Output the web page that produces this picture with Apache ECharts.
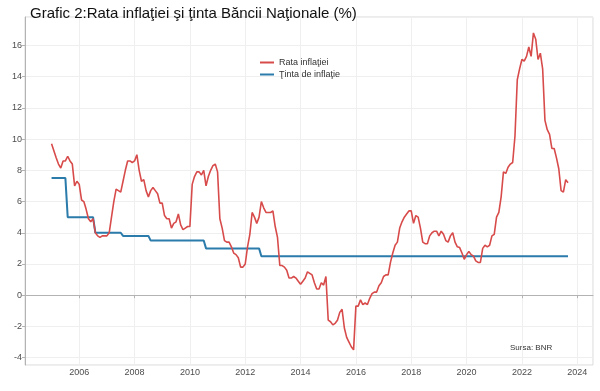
<!DOCTYPE html>
<html>
<head>
<meta charset="utf-8">
<script src="https://cdn.jsdelivr.net/npm/echarts@6/dist/echarts.min.js"></script>
<style>
html,body{margin:0;padding:0;background:#fff;}
#chart{width:600px;height:391px;}
</style>
</head>
<body>
<div id="chart"></div>
<script>
// monthly series, first month plotted at the start of 2005 (as in the reference)
var startYear = 2005;
var xTicks = [2006, 2008, 2010, 2012, 2014, 2016, 2018, 2020, 2022, 2024];
var yTicks = [-4, -2, 0, 2, 4, 6, 8, 10, 12, 14, 16];

var rataInflatiei = [
  9.7, 9.25, 8.8, 8.4, 8.15, 8.6, 8.6,
  8.9, 8.6, 8.4, 7.0, 7.3, 7.1, 6.1, 6.0, 5.5, 4.9, 4.7, 4.9,
  4.0, 3.8, 3.7, 3.8, 3.8, 3.8, 4.0, 5.0, 6.0, 6.8, 6.7, 6.6,
  7.3, 8.0, 8.6, 8.6, 8.5, 8.6, 9.0, 8.0, 7.3, 7.4, 6.7, 6.3,
  6.7, 6.9, 6.7, 6.5, 5.9, 5.9, 5.1, 4.9, 4.9, 4.3, 4.6, 4.7,
  5.2, 4.5, 4.2, 4.3, 4.4, 4.4, 7.1, 7.6, 7.9, 7.9, 7.7, 8.0,
  7.0, 7.6, 8.0, 8.3, 8.4, 7.9, 4.9, 4.3, 3.5, 3.4, 3.4, 3.1,
  2.7, 2.6, 2.4, 1.8, 1.8, 2.0, 3.1, 3.9, 5.3, 5.0, 4.6, 5.0,
  6.0, 5.6, 5.3, 5.3, 5.3, 5.4, 4.4, 3.7, 1.9, 1.9, 1.8, 1.6,
  1.1, 1.1, 1.2, 1.1, 0.9, 0.7, 0.9, 1.1, 1.5, 1.4, 1.3, 0.8,
  0.4, 0.4, 0.8, 0.65, 1.2, -1.6, -1.7, -1.9, -1.8, -1.6, -1.1, -0.9,
  -2.1, -2.7, -3.0, -3.3, -3.5, -0.7, -0.7, -0.3, -0.6, -0.5, -0.6, -0.2,
  0.1, 0.2, 0.2, 0.6, 0.8, 1.2, 1.3, 1.3, 2.1, 2.7, 3.2, 3.4,
  4.3, 4.7, 5.0, 5.2, 5.4, 5.4, 4.6, 5.1, 5.0, 4.3, 3.4, 3.3,
  3.3, 3.8, 4.0, 4.1, 4.1, 3.8, 4.1, 3.9, 3.5, 3.4, 3.8, 4.0,
  3.4, 3.1, 3.05, 2.7, 2.3, 2.6, 2.8, 2.6, 2.5, 2.2, 2.1, 2.1,
  3.0, 3.2, 3.1, 3.2, 3.8, 3.9, 5.0, 5.3, 6.3, 7.9, 7.8, 8.2,
  8.4, 8.5, 10.2, 13.8, 14.5, 15.1, 15.0, 15.3, 15.9, 15.3, 16.8, 16.4,
  15.1, 15.5, 14.5, 11.2, 10.6, 10.3, 9.4, 9.4, 8.8, 8.1, 6.7, 6.6,
  7.4, 7.2
];

var tintaInflatie = [
  7.5, 7.5, 7.5, 7.5, 7.5, 7.5, 7.5,
  5, 5, 5, 5, 5, 5, 5, 5, 5, 5, 5, 5,
  4, 4, 4, 4, 4, 4, 4, 4, 4, 4, 4, 4,
  3.8, 3.8, 3.8, 3.8, 3.8, 3.8, 3.8, 3.8, 3.8, 3.8, 3.8, 3.8,
  3.5, 3.5, 3.5, 3.5, 3.5, 3.5, 3.5, 3.5, 3.5, 3.5, 3.5, 3.5,
  3.5, 3.5, 3.5, 3.5, 3.5, 3.5, 3.5, 3.5, 3.5, 3.5, 3.5, 3.5,
  3, 3, 3, 3, 3, 3, 3, 3, 3, 3, 3, 3,
  3, 3, 3, 3, 3, 3, 3, 3, 3, 3, 3, 3,
  2.5, 2.5, 2.5, 2.5, 2.5, 2.5, 2.5, 2.5, 2.5, 2.5, 2.5, 2.5,
  2.5, 2.5, 2.5, 2.5, 2.5, 2.5, 2.5, 2.5, 2.5, 2.5, 2.5, 2.5,
  2.5, 2.5, 2.5, 2.5, 2.5, 2.5, 2.5, 2.5, 2.5, 2.5, 2.5, 2.5,
  2.5, 2.5, 2.5, 2.5, 2.5, 2.5, 2.5, 2.5, 2.5, 2.5, 2.5, 2.5,
  2.5, 2.5, 2.5, 2.5, 2.5, 2.5, 2.5, 2.5, 2.5, 2.5, 2.5, 2.5,
  2.5, 2.5, 2.5, 2.5, 2.5, 2.5, 2.5, 2.5, 2.5, 2.5, 2.5, 2.5,
  2.5, 2.5, 2.5, 2.5, 2.5, 2.5, 2.5, 2.5, 2.5, 2.5, 2.5, 2.5,
  2.5, 2.5, 2.5, 2.5, 2.5, 2.5, 2.5, 2.5, 2.5, 2.5, 2.5, 2.5,
  2.5, 2.5, 2.5, 2.5, 2.5, 2.5, 2.5, 2.5, 2.5, 2.5, 2.5, 2.5,
  2.5, 2.5, 2.5, 2.5, 2.5, 2.5, 2.5, 2.5, 2.5, 2.5, 2.5, 2.5,
  2.5, 2.5, 2.5, 2.5, 2.5, 2.5, 2.5, 2.5, 2.5, 2.5, 2.5, 2.5,
  2.5, 2.5
];

var seriesNames = ['Rata infla\u0163iei', '\u0162inta de infla\u0163ie'];
var titleText = 'Grafic 2:Rata infla\u0163iei \u015Fi \u0163inta B\u0103ncii Na\u0163ionale (%)';
var sourceText = 'Sursa: BNR';

function withDates(vals) {
  return vals.map(function (v, i) { return [startYear + i / 12, v]; });
}

var chart = echarts.init(document.getElementById('chart'), null, {renderer: 'canvas'});
var FONT = 'Liberation Sans, Arial, sans-serif';
var axisCol = '#b3b3b3';

chart.setOption({
  animation: false,
  backgroundColor: '#ffffff',
  title: {
    text: titleText,
    left: 25, top: 1,
    textStyle: {fontFamily: FONT, fontSize: 15, fontWeight: 'normal', color: '#111'}
  },
  legend: {
    orient: 'vertical',
    left: 255, top: 53,
    itemWidth: 14, itemHeight: 2, itemGap: 3,
    icon: 'rect',
    textStyle: {fontFamily: FONT, fontSize: 9, color: '#333'},
    data: seriesNames
  },
  grid: {
    left: 25, right: 7, top: 17, bottom: 26,
    show: true, borderColor: '#d9d9d9', borderWidth: 1, backgroundColor: '#fff'
  },
  xAxis: {
    type: 'value',
    min: 2004.04, max: 2024.57,
    minInterval: 2, maxInterval: 2, splitNumber: 10,
    axisLine: {show: true, lineStyle: {color: axisCol, width: 1}},
    axisTick: {show: true, length: 3, lineStyle: {color: axisCol}},
    axisLabel: {
      fontFamily: FONT, fontSize: 9, color: '#4d4d4d', margin: 3,
      showMinLabel: false, showMaxLabel: false,
      formatter: function (v) { return xTicks.indexOf(Math.round(v * 1000) / 1000) >= 0 ? String(v) : ''; }
    },
    splitLine: {show: true, lineStyle: {color: '#efefef', width: 1}}
  },
  yAxis: {
    type: 'value',
    min: -4.47, max: 17.82,
    minInterval: 2, maxInterval: 2, splitNumber: 11,
    axisLine: {show: true, lineStyle: {color: axisCol, width: 1}},
    axisTick: {show: true, length: 3, lineStyle: {color: axisCol}},
    axisLabel: {
      fontFamily: FONT, fontSize: 9, color: '#4d4d4d', margin: 3,
      showMinLabel: false, showMaxLabel: false,
      formatter: function (v) { return yTicks.indexOf(Math.round(v * 1000) / 1000) >= 0 ? String(v) : ''; }
    },
    splitLine: {show: true, lineStyle: {color: '#efefef', width: 1}}
  },
  graphic: [{
    type: 'text', left: 510, top: 344,
    style: {text: sourceText, font: '8px ' + FONT, fill: '#333'}
  }],
  series: [
    {
      name: seriesNames[0], type: 'line', data: withDates(rataInflatiei),
      showSymbol: false, symbol: 'none',
      lineStyle: {color: '#d84b4b', width: 1.6},
      itemStyle: {color: '#d84b4b'}, z: 3
    },
    {
      name: seriesNames[1], type: 'line', data: withDates(tintaInflatie),
      showSymbol: false, symbol: 'none',
      lineStyle: {color: '#2b7bab', width: 2},
      itemStyle: {color: '#2b7bab'}, z: 2
    }
  ]
});
</script>
</body>
</html>
